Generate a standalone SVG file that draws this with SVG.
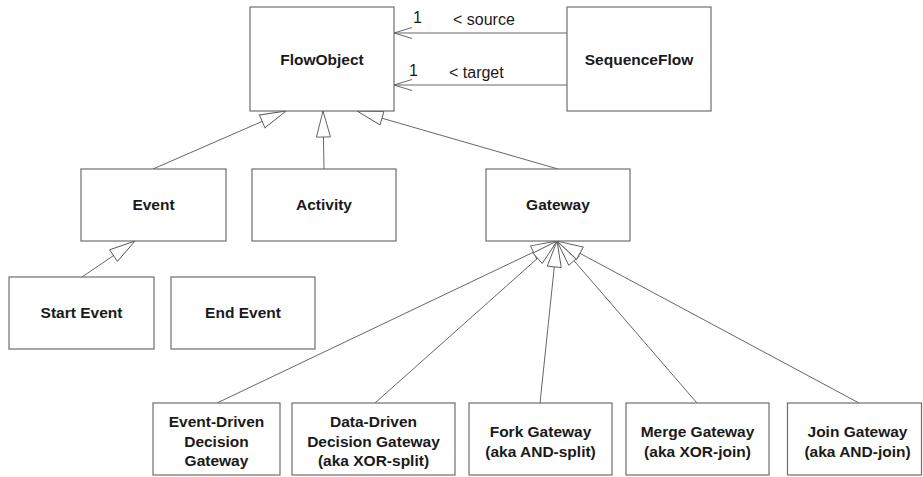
<svg xmlns="http://www.w3.org/2000/svg" width="923" height="477" viewBox="0 0 923 477">
<style>
.box{fill:#fff;stroke:#6e6e6e;stroke-width:1.2}
.lbl{font-family:"Liberation Sans",Arial,sans-serif;font-weight:bold;font-size:15.5px;fill:#1a1a1a;text-anchor:middle}
.sm{font-family:"Liberation Sans",Arial,sans-serif;font-size:16px;fill:#1a1a1a}
.ln{stroke:#555;stroke-width:0.9;fill:none}
</style>
<defs>
<marker id="gen" viewBox="0 0 30 16" markerWidth="30" markerHeight="16" refX="27" refY="8" orient="auto" markerUnits="userSpaceOnUse">
<path d="M1,1 L27,8 L1,15 Z" fill="#fff" stroke="#555" stroke-width="0.9"/>
</marker>
<marker id="open" viewBox="0 0 20 13" markerWidth="20" markerHeight="13" refX="19" refY="6.5" orient="auto" markerUnits="userSpaceOnUse">
<path d="M1,1 L19,6.5 L1,12" fill="none" stroke="#555" stroke-width="0.9"/>
</marker>
</defs>
<g id="connectors">
<line class="ln" x1="567" y1="33" x2="394" y2="33" marker-end="url(#open)"/>
<line class="ln" x1="567" y1="85" x2="394" y2="85" marker-end="url(#open)"/>
<text class="sm" x="413" y="23">1</text>
<text class="sm" x="453" y="25">&lt; source</text>
<text class="sm" x="409" y="76">1</text>
<text class="sm" x="449" y="78">&lt; target</text>
<line class="ln" x1="153" y1="169" x2="286" y2="111" marker-end="url(#gen)"/>
<line class="ln" x1="324" y1="169" x2="323" y2="111" marker-end="url(#gen)"/>
<line class="ln" x1="558" y1="169" x2="357" y2="111" marker-end="url(#gen)"/>
<line class="ln" x1="82" y1="277" x2="135" y2="241" marker-end="url(#gen)"/>
<line class="ln" x1="217" y1="403" x2="557" y2="241" marker-end="url(#gen)"/>
<line class="ln" x1="375" y1="403" x2="557" y2="241" marker-end="url(#gen)"/>
<line class="ln" x1="540" y1="403" x2="557" y2="241" marker-end="url(#gen)"/>
<line class="ln" x1="697" y1="403" x2="557" y2="241" marker-end="url(#gen)"/>
<line class="ln" x1="859" y1="403" x2="557" y2="241" marker-end="url(#gen)"/>
</g>
<g id="FlowObject"><rect class="box" x="250" y="7" width="144" height="104"/><text class="lbl" x="322" y="65">FlowObject</text></g>
<g id="SequenceFlow"><rect class="box" x="567" y="7" width="144" height="104"/><text class="lbl" x="639" y="65">SequenceFlow</text></g>
<g id="Event"><rect class="box" x="81" y="169" width="145" height="72"/><text class="lbl" x="153.5" y="210">Event</text></g>
<g id="Activity"><rect class="box" x="252" y="169" width="144" height="72"/><text class="lbl" x="324" y="210">Activity</text></g>
<g id="Gateway"><rect class="box" x="486" y="169" width="144" height="72"/><text class="lbl" x="558" y="210">Gateway</text></g>
<g id="StartEvent"><rect class="box" x="9" y="277" width="145" height="72"/><text class="lbl" x="81.5" y="318">Start Event</text></g>
<g id="EndEvent"><rect class="box" x="171" y="277" width="144" height="72"/><text class="lbl" x="243" y="318">End Event</text></g>
<g id="EventDrivenGateway"><rect class="box" x="153" y="403" width="127" height="72"/><text class="lbl" x="216.5" y="427">Event-Driven</text><text class="lbl" x="216.5" y="446.5">Decision</text><text class="lbl" x="216.5" y="466">Gateway</text></g>
<g id="DataDrivenGateway"><rect class="box" x="292" y="403" width="163" height="72"/><text class="lbl" x="373.5" y="427">Data-Driven</text><text class="lbl" x="373.5" y="446.5">Decision Gateway</text><text class="lbl" x="373.5" y="466">(aka XOR-split)</text></g>
<g id="ForkGateway"><rect class="box" x="469" y="403" width="143" height="72"/><text class="lbl" x="540.5" y="437">Fork Gateway</text><text class="lbl" x="540.5" y="456.5">(aka AND-split)</text></g>
<g id="MergeGateway"><rect class="box" x="626" y="403" width="143" height="72"/><text class="lbl" x="697.5" y="437">Merge Gateway</text><text class="lbl" x="697.5" y="456.5">(aka XOR-join)</text></g>
<g id="JoinGateway"><rect class="box" x="787.5" y="403" width="134" height="72"/><text class="lbl" x="857.5" y="437">Join Gateway</text><text class="lbl" x="857.5" y="456.5">(aka AND-join)</text></g>
</svg>
